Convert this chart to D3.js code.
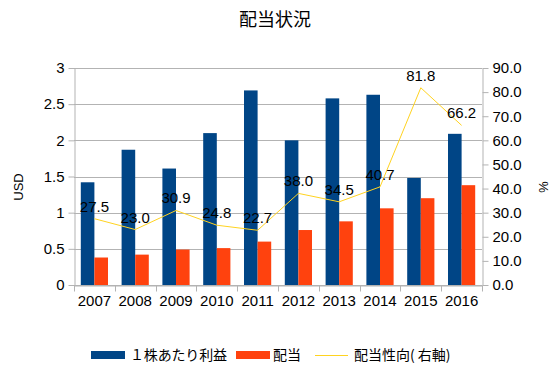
<!DOCTYPE html>
<html lang="ja">
	<head>
		<meta charset="UTF-8"/>
		<title>配当状況</title>
		<script type="text/javascript" src="https://cdn.jsdelivr.net/npm/d3@7/dist/d3.min.js"></script>
		<style>
			body { margin: 0; background: #fff; }
			text { font-family: "Liberation Sans", Arial, sans-serif; }
			.jp text, text.jp { font-family: "Noto Sans CJK JP", sans-serif; }
		</style>
	</head>
	<body>
		<script type="text/javascript">
			var years = ["2007", "2008", "2009", "2010", "2011", "2012", "2013", "2014", "2015", "2016"];
			var eps = [1.42, 1.87, 1.61, 2.10, 2.69, 2.00, 2.58, 2.63, 1.48, 2.09];
			var dividend = [0.38, 0.42, 0.49, 0.51, 0.60, 0.76, 0.88, 1.06, 1.20, 1.38];
			var payout = [27.5, 23.0, 30.9, 24.8, 22.7, 38.0, 34.5, 40.7, 81.8, 66.2];
			var leftTicks = [0, 0.5, 1, 1.5, 2, 2.5, 3];
			var rightTicks = [0, 10, 20, 30, 40, 50, 60, 70, 80, 90];

			var w = 558;
			var h = 378;
			var plotLeft = 74, plotRight = 482, plotTop = 68, plotBottom = 285;

			var svg = d3.select("body")
				.append("svg")
				.attr("width", w)
				.attr("height", h);

			var xScale = d3.scaleBand()
				.domain(years)
				.range([plotLeft, plotRight]);

			var yScale = d3.scaleLinear()
				.domain([0, 3])
				.range([plotBottom, plotTop]);

			var y2Scale = d3.scaleLinear()
				.domain([0, 90])
				.range([plotBottom, plotTop]);

			// grid
			svg.selectAll("line.grid")
				.data(leftTicks)
				.enter()
				.append("line")
				.attr("class", "grid")
				.attr("x1", plotLeft)
				.attr("x2", plotRight)
				.attr("y1", function(d) { return Math.round(yScale(d)) + 0.5; })
				.attr("y2", function(d) { return Math.round(yScale(d)) + 0.5; })
				.attr("stroke", "#b3b3b3");

			var bw = xScale.bandwidth();

			svg.selectAll("rect.eps")
				.data(eps)
				.enter()
				.append("rect")
				.attr("class", "eps")
				.attr("x", function(d, i) { return xScale(years[i]) + bw / 6; })
				.attr("y", function(d) { return yScale(d); })
				.attr("width", bw / 3)
				.attr("height", function(d) { return plotBottom - yScale(d); })
				.attr("fill", "#004586");

			svg.selectAll("rect.div")
				.data(dividend)
				.enter()
				.append("rect")
				.attr("class", "div")
				.attr("x", function(d, i) { return xScale(years[i]) + bw / 2; })
				.attr("y", function(d) { return yScale(d); })
				.attr("width", bw / 3)
				.attr("height", function(d) { return plotBottom - yScale(d); })
				.attr("fill", "#ff420e");

			var line = d3.line()
				.x(function(d, i) { return xScale(years[i]) + bw / 2; })
				.y(function(d) { return y2Scale(d); });

			svg.append("path")
				.datum(payout)
				.attr("d", line)
				.attr("fill", "none")
				.attr("stroke", "#ffd320")
				.attr("stroke-width", 1);

			svg.selectAll("text.lbl")
				.data(payout)
				.enter()
				.append("text")
				.attr("class", "lbl")
				.attr("x", function(d, i) { return xScale(years[i]) + bw / 2; })
				.attr("y", function(d) { return y2Scale(d) - 7; })
				.attr("text-anchor", "middle")
				.attr("font-size", "15px")
				.attr("fill", "#000")
				.text(function(d) { return d.toFixed(1); });

			// axes
			var xAxis = d3.axisBottom(xScale).tickSizeOuter(0).tickSize(0).tickPadding(10);
			var yAxis = d3.axisLeft(yScale).tickValues(leftTicks).tickSize(6).tickSizeOuter(0).tickPadding(4)
				.tickFormat(function(d) { return String(d); });
			var y2Axis = d3.axisRight(y2Scale).tickValues(rightTicks).tickSize(6).tickSizeOuter(0).tickPadding(4)
				.tickFormat(d3.format(".1f"));

			var gx = svg.append("g")
				.attr("transform", "translate(0," + (plotBottom + 0.5) + ")")
				.call(xAxis);
			// category boundary ticks
			gx.selectAll("line.sep")
				.data(years.concat(["end"]))
				.enter()
				.append("line")
				.attr("class", "sep")
				.attr("x1", function(d, i) { return Math.round(plotLeft + i * bw) + 0.5; })
				.attr("x2", function(d, i) { return Math.round(plotLeft + i * bw) + 0.5; })
				.attr("y1", 0)
				.attr("y2", 6);

			var gy = svg.append("g")
				.attr("transform", "translate(" + (plotLeft + 0.5) + ",0)")
				.call(yAxis);

			var gy2 = svg.append("g")
				.attr("transform", "translate(" + (plotRight + 0.5) + ",0)")
				.call(y2Axis);

			[gx, gy, gy2].forEach(function(g) {
				g.selectAll("path.domain").attr("stroke", "#b3b3b3");
				g.selectAll("line").attr("stroke", "#b3b3b3");
				g.selectAll("text")
					.attr("font-size", "15px")
					.attr("font-family", "Liberation Sans, Arial, sans-serif")
					.attr("fill", "#000");
			});

			// titles
			svg.append("text")
				.attr("class", "jp")
				.attr("x", 275)
				.attr("y", 26)
				.attr("text-anchor", "middle")
				.attr("font-size", "18px")
				.text("配当状況");

			svg.append("text")
				.attr("transform", "translate(23,187) rotate(-90)")
				.attr("text-anchor", "middle")
				.attr("font-size", "13px")
				.text("USD");

			svg.append("text")
				.attr("transform", "translate(539,187) rotate(90)")
				.attr("text-anchor", "middle")
				.attr("font-size", "13px")
				.text("%");

			// legend
			var legend = svg.append("g").attr("class", "jp");
			legend.append("rect").attr("x", 91).attr("y", 351).attr("width", 34).attr("height", 8).attr("fill", "#004586");
			legend.append("text").attr("x", 130).attr("y", 360).attr("font-size", "14px").attr("textLength", 97).text("１株あたり利益");
			legend.append("rect").attr("x", 236).attr("y", 351).attr("width", 34).attr("height", 8).attr("fill", "#ff420e");
			legend.append("text").attr("x", 273).attr("y", 360).attr("font-size", "14px").text("配当");
			legend.append("line").attr("x1", 315).attr("x2", 348).attr("y1", 355.5).attr("y2", 355.5).attr("stroke", "#ffd320");
			legend.append("text").attr("x", 354).attr("y", 360).attr("font-size", "14px").text("配当性向( 右軸)");
		</script>
	</body>
</html>
